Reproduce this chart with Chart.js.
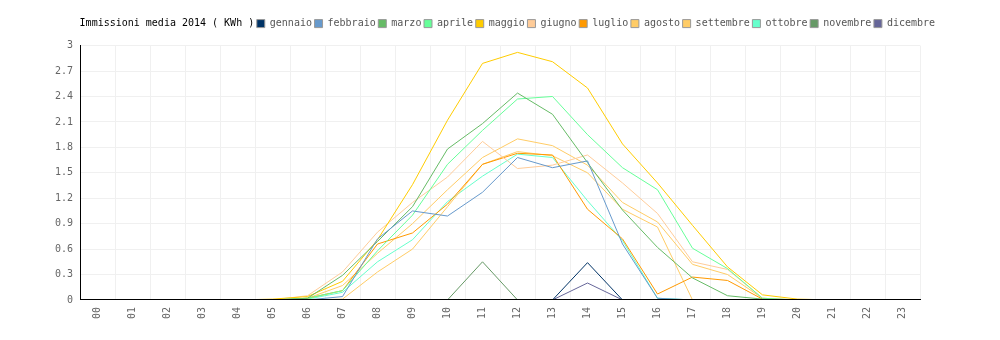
<!DOCTYPE html>
<html>
<head>
<meta charset="utf-8">
<script src="https://cdn.jsdelivr.net/npm/chart.js@4.4.0/dist/chart.umd.min.js"></script>
<style>
  html, body { margin: 0; padding: 0; background: #fff; }
  #wrap { width: 1000px; height: 340px; }
</style>
</head>
<body>
<div id="wrap"><canvas id="chart" width="1000" height="340"></canvas></div>
<script>
// hours of the day
const hours = ['00','01','02','03','04','05','06','07','08','09','10','11',
               '12','13','14','15','16','17','18','19','20','21','22','23'];
const yTicks = [0, 0.3, 0.6, 0.9, 1.2, 1.5, 1.8, 2.1, 2.4, 2.7, 3];
const chartTitle = 'Immissioni media 2014 ( KWh )';

// average production per hour, one array per month
const gennaio   = [0,0,0,0,0,0,0,0,0,0,0,0,0,0,0.44,0,0,0,0,0,0,0,0,0];
const febbraio  = [0,0,0,0,0,0,0,0.04,0.72,1.05,0.99,1.27,1.68,1.56,1.64,0.66,0.02,0,0,0,0,0,0,0];
const marzo     = [0,0,0,0,0,0,0.02,0.29,0.69,1.10,1.78,2.08,2.44,2.19,1.62,1.06,0.62,0.26,0.05,0.01,0,0,0,0];
const aprile    = [0,0,0,0,0,0,0.02,0.11,0.58,1.00,1.60,2.00,2.37,2.40,1.95,1.56,1.30,0.61,0.37,0.02,0,0,0,0];
const maggio    = [0,0,0,0,0,0.01,0.04,0.22,0.71,1.36,2.12,2.79,2.92,2.81,2.50,1.84,1.38,0.88,0.39,0.06,0.01,0,0,0];
const giugno    = [0,0,0,0,0,0,0.05,0.33,0.80,1.15,1.45,1.87,1.55,1.59,1.71,1.38,1.02,0.45,0.36,0.02,0,0,0,0];
const luglio    = [0,0,0,0,0,0,0.02,0.11,0.66,0.79,1.13,1.60,1.73,1.71,1.07,0.72,0.07,0.27,0.23,0.01,0,0,0,0];
const agosto    = [0,0,0,0,0,0,0,0.01,0.33,0.60,1.10,1.60,1.75,1.70,1.50,1.07,0.86,0,0,0,0,0,0,0];
const settembre = [0,0,0,0,0,0,0.02,0.17,0.55,0.90,1.30,1.68,1.90,1.82,1.59,1.15,0.92,0.42,0.30,0.02,0,0,0,0];
const ottobre   = [0,0,0,0,0,0,0.01,0.09,0.45,0.71,1.16,1.46,1.72,1.68,1.17,0.70,0.02,0,0,0,0,0,0,0];
const novembre  = [0,0,0,0,0,0,0,0,0,0,0,0.45,0,0,0,0,0,0,0,0,0,0,0,0];
const dicembre  = [0,0,0,0,0,0,0,0,0,0,0,0,0,0,0.20,0,0,0,0,0,0,0,0,0];

const months = ['gennaio','febbraio','marzo','aprile','maggio','giugno',
                'luglio','agosto','settembre','ottobre','novembre','dicembre'];
const monthData = [gennaio, febbraio, marzo, aprile, maggio, giugno,
                   luglio, agosto, settembre, ottobre, novembre, dicembre];
const monthColors = ['#003366','#6699cc','#66bb66','#66ff99','#ffcc00','#ffcc99',
                     '#ff9900','#ffcc66','#ffcc66','#66ffcc','#669966','#666699'];

Chart.defaults.font.family = "'DejaVu Sans Mono', 'Liberation Mono', monospace";
Chart.defaults.font.size = 10;

// legend row: extra space below it, and it starts over the y axis
const legendTweaks = {
  id: 'legendTweaks',
  beforeInit(chart) {
    const origFit = chart.legend.fit;
    chart.legend.fit = function () {
      origFit.bind(chart.legend)();
      this.height += 7;
    };
  },
  afterLayout(chart) {
    const l = chart.legend;
    const w = l.right - l.left;
    l.left = 64;
    l.right = 64 + w;
  }
};

new Chart(document.getElementById('chart').getContext('2d'), {
  type: 'line',
  data: {
    labels: hours,
    datasets: months.map((m, i) => ({
      label: m,
      data: monthData[i],
      borderColor: monthColors[i],
      backgroundColor: monthColors[i],
      borderWidth: 1,
      pointRadius: 0,
      fill: false,
      tension: 0,
    })),
  },
  options: {
    responsive: false,
    animation: false,
    layout: { padding: { top: 16, right: 80, left: 0, bottom: 14 } },
    plugins: {
      tooltip: { enabled: false },
      legend: {
        position: 'top',
        align: 'start',
        labels: {
          boxWidth: 8,
          boxHeight: 8,
          padding: 2.6,
          color: '#555',
          generateLabels(chart) {
            const items = Chart.defaults.plugins.legend.labels.generateLabels(chart);
            items.forEach(it => { it.strokeStyle = '#999'; it.lineWidth = 1; });
            items.unshift({
              text: chartTitle,
              fillStyle: 'rgba(0,0,0,0)',
              strokeStyle: 'rgba(0,0,0,0)',
              lineWidth: 0,
              fontColor: '#000',
              hidden: false,
              datasetIndex: -1,
            });
            return items;
          },
        },
        onClick() {},
      },
    },
    scales: {
      x: {
        offset: true,
        grid: { offset: true, color: '#f0f0f0', drawTicks: false },
        border: { color: '#000', width: 1, z: 1 },
        ticks: { color: '#666', minRotation: 90, maxRotation: 90, padding: 7, autoSkip: false },
      },
      y: {
        min: 0,
        max: 3,
        afterFit(scale) { scale.width = 80; },
        afterBuildTicks(scale) { scale.ticks = yTicks.map(v => ({ value: v })); },
        grid: { color: '#f0f0f0', drawTicks: false },
        border: { color: '#000', width: 1, z: 1 },
        ticks: { color: '#666', padding: 7, callback: v => String(Math.round(v * 10) / 10) },
      },
    },
  },
  plugins: [legendTweaks],
});
</script>
</body>
</html>
